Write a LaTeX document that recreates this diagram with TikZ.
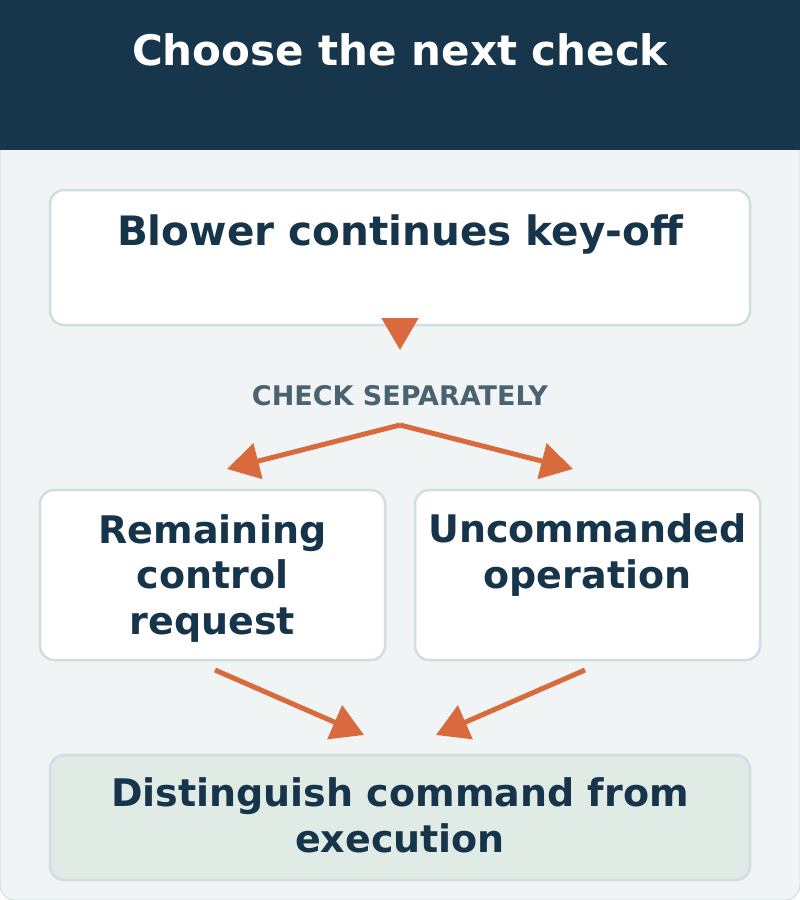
\documentclass[tikz,border=0pt]{standalone}
\usepackage{fontspec}
\setmainfont{DejaVu Sans}
\usetikzlibrary{arrows.meta}
\definecolor{hdr}{HTML}{17354B}
\definecolor{panel}{HTML}{F0F4F5}
\definecolor{bord}{HTML}{D0DDE1}
\definecolor{ink}{HTML}{16344A}
\definecolor{orng}{HTML}{D96A3D}
\definecolor{lblgray}{HTML}{4B6370}
\definecolor{endfill}{HTML}{E0EBE5}
\tikzset{
  boxstyle/.style={draw=bord, line width=2.5pt, rounded corners=14pt, fill=white, inner sep=0pt},
  boxtext/.style={text=ink, font=\bfseries\fontsize{38}{45.5}\selectfont, align=center, inner sep=0pt, anchor=base},
  flow/.style={draw=orng, line width=5pt, -{Triangle[length=32pt,width=36pt]}},
}
\begin{document}
\begin{tikzpicture}[x=1pt,y=-1pt]
\useasboundingbox (0,0) rectangle (800,900);
% panel
\fill[panel, draw=bord, line width=1pt, rounded corners=15pt] (0,-20) rectangle (800,900);
\fill[hdr] (0,0) rectangle (800,150);
\node[text=white, font=\bfseries\fontsize{42}{50}\selectfont, anchor=base, inner sep=0pt] (title) at (400,65) {Choose the next check};
% boxes
\node[boxstyle, minimum width=700pt, minimum height=135pt] (b1) at (400,257.5) {};
\node[boxtext, font=\bfseries\fontsize{40.5}{48}\selectfont] (t1) at (400,245) {Blower continues key-off};
\node[boxstyle, minimum width=345pt, minimum height=170pt] (b2) at (212.5,575) {};
\node[boxtext] (t2) at (212.5,634) {Remaining\\control\\request};
\node[boxstyle, minimum width=345pt, minimum height=170pt] (b3) at (587.5,575) {};
\node[boxtext] (t3) at (587.5,588) {Uncommanded\\operation};
\node[boxstyle, fill=endfill, minimum width=700pt, minimum height=125pt] (b4) at (400,817.5) {};
\node[boxtext] (t4) at (400,852) {Distinguish command from\\execution};
% label
\node[text=lblgray, font=\bfseries\fontsize{27}{32}\selectfont, anchor=base, inner sep=0pt] (lbl) at (400,405) {CHECK SEPARATELY};
% connectors
\coordinate (a1s) at (400,318);
\coordinate (a1e) at (400,350);
\coordinate (split) at (400,425);
\coordinate (le) at (227,469);
\coordinate (re) at (573,469);
\coordinate (b2s) at (215,670);
\coordinate (b3s) at (585,670);
\coordinate (b4l) at (364,735);
\coordinate (b4r) at (436,735);
\draw[flow] (a1s) -- (a1e);
\draw[flow] (split) -- (le);
\draw[flow] (split) -- (re);
\draw[flow] (b2s) -- (b4l);
\draw[flow] (b3s) -- (b4r);
\end{tikzpicture}
\end{document}
